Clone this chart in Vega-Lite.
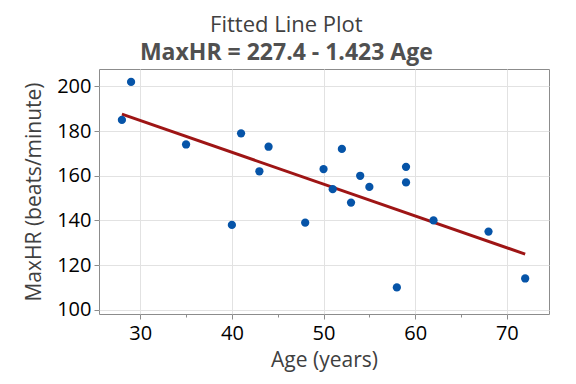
{
  "$schema": "https://vega.github.io/schema/vega-lite/v6.json",
  "width": 450,
  "height": 245,
  "autosize": {"type": "none"},
  "padding": {"left": 99, "top": 69, "right": 27, "bottom": 70},
  "background": "white",
  "config": {
    "font": "Open Sans",
    "view": {"stroke": "#8C8C8C", "strokeWidth": 1}
  },
  "title": {
    "text": "Fitted Line Plot",
    "subtitle": "MaxHR = 227.4 - 1.423 Age",
    "anchor": "middle",
    "frame": "bounds",
    "font": "Open Sans",
    "fontSize": 22,
    "fontWeight": 500,
    "color": "#404040",
    "subtitleFont": "Open Sans",
    "subtitleFontSize": 23,
    "subtitleFontWeight": "bold",
    "subtitleColor": "#505050",
    "subtitlePadding": 5,
    "offset": 3
  },
  "datasets": {
    "pts": [
      {"Age": 28, "MaxHR": 185},
      {"Age": 29, "MaxHR": 202},
      {"Age": 35, "MaxHR": 174},
      {"Age": 40, "MaxHR": 138},
      {"Age": 41, "MaxHR": 179},
      {"Age": 43, "MaxHR": 162},
      {"Age": 44, "MaxHR": 173},
      {"Age": 48, "MaxHR": 139},
      {"Age": 50, "MaxHR": 163},
      {"Age": 51, "MaxHR": 154},
      {"Age": 52, "MaxHR": 172},
      {"Age": 53, "MaxHR": 148},
      {"Age": 54, "MaxHR": 160},
      {"Age": 55, "MaxHR": 155},
      {"Age": 58, "MaxHR": 110},
      {"Age": 59, "MaxHR": 164},
      {"Age": 59, "MaxHR": 157},
      {"Age": 62, "MaxHR": 140},
      {"Age": 68, "MaxHR": 135},
      {"Age": 72, "MaxHR": 114}
    ],
    "fit": [
      {"Age": 28, "MaxHR": 187.56},
      {"Age": 72, "MaxHR": 124.94}
    ]
  },
  "layer": [
    {
      "data": {"name": "fit"},
      "mark": {"type": "line", "color": "#9E1515", "strokeWidth": 3},
      "encoding": {
        "x": {"field": "Age", "type": "quantitative"},
        "y": {"field": "MaxHR", "type": "quantitative"}
      }
    },
    {
      "data": {"name": "pts"},
      "mark": {"type": "circle", "opacity": 1, "color": "#0654A8", "size": 68},
      "encoding": {
        "x": {
          "field": "Age",
          "type": "quantitative",
          "scale": {"domain": [25.5, 74.6], "nice": false, "zero": false},
          "axis": {
            "title": "Age (years)",
            "values": [30, 35, 40, 45, 50, 55, 60, 65, 70],
            "labelExpr": "datum.value % 10 === 0 ? datum.label : ''",
            "labelFontSize": 20,
            "labelColor": "#000000",
            "labelPadding": 4,
            "titleFontSize": 21,
            "titleFontWeight": "normal",
            "titleColor": "#404040",
            "titlePadding": 6,
            "domain": false,
            "tickColor": "#8C8C8C",
            "tickSize": {"expr": "datum.value % 10 === 0 ? 5 : 3"},
            "gridColor": "#E2E2E2",
            "gridOpacity": {"expr": "datum.value % 10 === 0 ? 1 : 0"}
          }
        },
        "y": {
          "field": "MaxHR",
          "type": "quantitative",
          "scale": {"domain": [98.1, 207.8], "nice": false, "zero": false},
          "axis": {
            "title": "MaxHR (beats/minute)",
            "values": [100, 110, 120, 130, 140, 150, 160, 170, 180, 190, 200],
            "labelExpr": "datum.value % 20 === 0 ? datum.label : ''",
            "labelFontSize": 20,
            "labelColor": "#000000",
            "labelPadding": 3,
            "titleFontSize": 21,
            "titleFontWeight": "normal",
            "titleColor": "#404040",
            "titlePadding": 12,
            "domain": false,
            "tickColor": "#8C8C8C",
            "tickSize": {"expr": "datum.value % 20 === 0 ? 5 : 3"},
            "gridColor": "#E2E2E2",
            "gridOpacity": {"expr": "datum.value % 20 === 0 ? 1 : 0"}
          }
        }
      }
    }
  ]
}
